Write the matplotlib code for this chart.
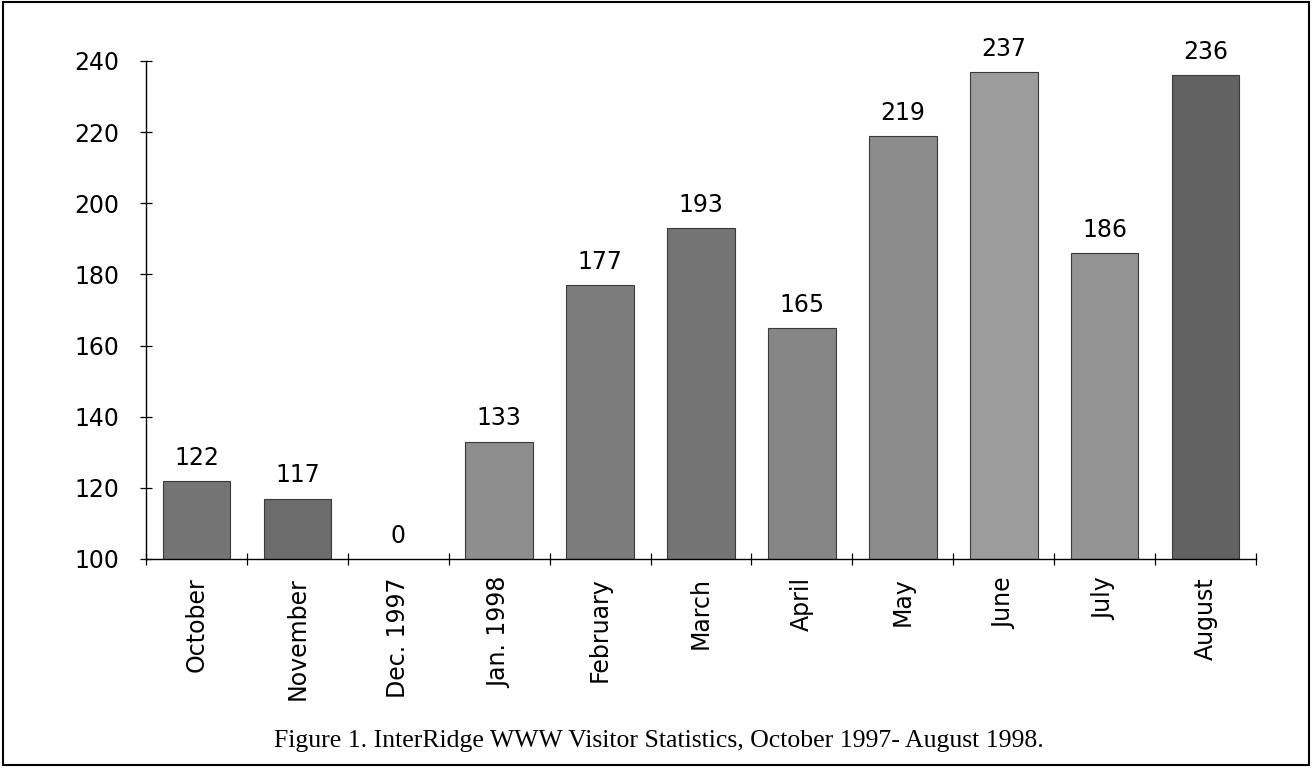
import matplotlib.pyplot as plt
from matplotlib.patches import Rectangle
from matplotlib.ticker import FixedLocator

# data
months = ['October', 'November', 'Dec. 1997', 'Jan. 1998', 'February', 'March',
          'April', 'May', 'June', 'July', 'August']
visitors = [122, 117, 0, 133, 177, 193, 165, 219, 237, 186, 236]
bar_greys = ['#747474', '#6c6c6c', '#808080', '#8e8e8e', '#7c7c7c', '#747474',
             '#868686', '#8c8c8c', '#9c9c9c', '#939393', '#626262']
yticks = [100, 120, 140, 160, 180, 200, 220, 240]
caption = 'Figure 1. InterRidge WWW Visitor Statistics, October 1997- August 1998.'

plt.rcParams['font.family'] = ['DejaVu Sans']

fig = plt.figure(figsize=(13.13, 7.69), dpi=100)
ax = fig.add_axes([0.1112, 0.2731, 0.8454, 0.6476])

x = list(range(len(months)))
ax.bar(x, visitors, width=0.67, color=bar_greys, edgecolor='#3a3a3a', linewidth=0.8,
       zorder=2)

for xi, v in zip(x, visitors):
    ax.annotate(str(v), (xi, max(v, yticks[0])), xytext=(0, 8), textcoords='offset points',
                ha='center', va='bottom', fontsize=17)

ax.set_xlim(-0.5, len(months) - 0.5)
ax.set_ylim(yticks[0], yticks[-1])
ax.set_yticks(yticks)
ax.set_xticks(x)
ax.set_xticklabels(months, rotation=90, fontsize=17)
ax.xaxis.set_minor_locator(FixedLocator([i - 0.5 for i in range(len(months) + 1)]))

ax.tick_params(axis='y', direction='inout', length=8, width=0.9, pad=15, labelsize=17)
ax.tick_params(axis='x', which='major', length=0, pad=13)
ax.tick_params(axis='x', which='minor', direction='inout', length=8, width=0.9)

for side in ['top', 'right']:
    ax.spines[side].set_visible(False)
ax.spines['left'].set_linewidth(1.0)
ax.spines['bottom'].set_linewidth(1.0)

fig.text(0.502, 1 - 741 / 769, caption, ha='center', va='center', fontsize=18.5,
         family=['Liberation Serif', 'DejaVu Serif'])

fig.patches.append(Rectangle((0.002, 0.005), 0.995, 0.992, transform=fig.transFigure,
                             fill=False, edgecolor='black', linewidth=1.5))

plt.savefig('out.png', dpi=100)
